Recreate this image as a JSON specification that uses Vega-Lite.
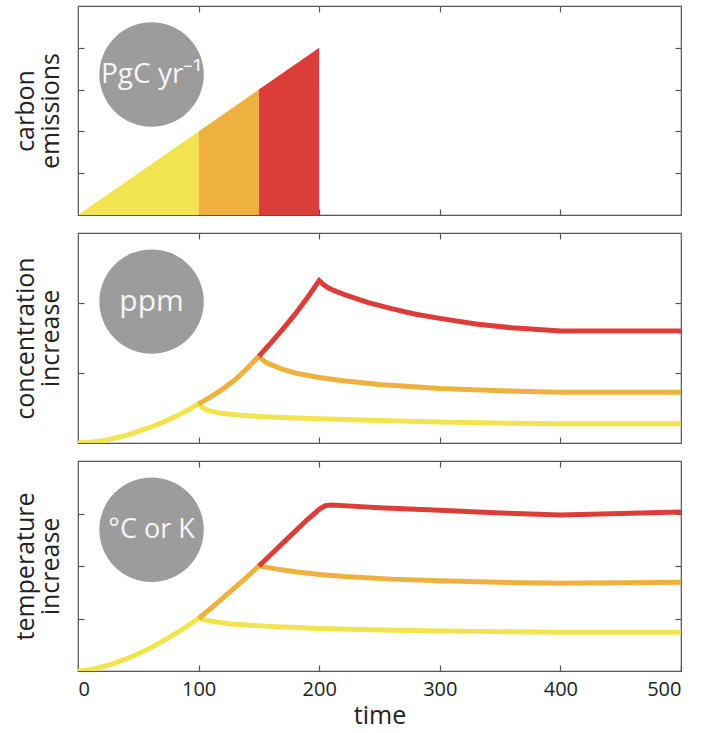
{
  "$schema": "https://vega.github.io/schema/vega-lite/v6.json",
  "padding": {"left": 12, "top": 4, "right": 0, "bottom": 0},
  "background": "white",
  "spacing": 14,
  "config": {
    "font": "Open Sans",
    "view": {"stroke": "#555555", "strokeWidth": 1.2},
    "axis": {
      "domain": false, "grid": false, "labels": false,
      "tickColor": "#555555", "tickSize": -6, "tickWidth": 1.2,
      "titleFont": "Open Sans", "titleFontWeight": "normal", "titleFontSize": 25,
      "titleColor": "#222222", "titleLineHeight": 25,
      "labelFont": "Open Sans", "labelFontSize": 20, "labelColor": "#222222"
    }
  },
  "datasets": {
    "emissions": [
      {"scenario": "low", "time": 0, "value": 0},
      {"scenario": "low", "time": 100, "value": 2},
      {"scenario": "medium", "time": 100, "value": 2},
      {"scenario": "medium", "time": 150, "value": 3},
      {"scenario": "high", "time": 150, "value": 3},
      {"scenario": "high", "time": 200, "value": 4}
    ],
    "concentration": [
      {"scenario": "low", "time": 0, "value": 0},
      {"scenario": "low", "time": 10, "value": 0.01},
      {"scenario": "low", "time": 20, "value": 0.03},
      {"scenario": "low", "time": 30, "value": 0.065},
      {"scenario": "low", "time": 40, "value": 0.11},
      {"scenario": "low", "time": 50, "value": 0.165},
      {"scenario": "low", "time": 60, "value": 0.225},
      {"scenario": "low", "time": 70, "value": 0.295},
      {"scenario": "low", "time": 80, "value": 0.37},
      {"scenario": "low", "time": 90, "value": 0.46},
      {"scenario": "low", "time": 100, "value": 0.56},
      {"scenario": "low", "time": 103, "value": 0.51},
      {"scenario": "low", "time": 106, "value": 0.48},
      {"scenario": "low", "time": 110, "value": 0.455},
      {"scenario": "low", "time": 120, "value": 0.42},
      {"scenario": "low", "time": 135, "value": 0.395},
      {"scenario": "low", "time": 150, "value": 0.38},
      {"scenario": "low", "time": 175, "value": 0.36},
      {"scenario": "low", "time": 200, "value": 0.345},
      {"scenario": "low", "time": 250, "value": 0.32},
      {"scenario": "low", "time": 300, "value": 0.3},
      {"scenario": "low", "time": 350, "value": 0.285},
      {"scenario": "low", "time": 400, "value": 0.275},
      {"scenario": "low", "time": 500, "value": 0.275},
      {"scenario": "medium", "time": 100, "value": 0.56},
      {"scenario": "medium", "time": 110, "value": 0.66},
      {"scenario": "medium", "time": 120, "value": 0.77},
      {"scenario": "medium", "time": 130, "value": 0.9},
      {"scenario": "medium", "time": 140, "value": 1.06},
      {"scenario": "medium", "time": 150, "value": 1.24},
      {"scenario": "medium", "time": 153, "value": 1.19},
      {"scenario": "medium", "time": 156, "value": 1.15},
      {"scenario": "medium", "time": 160, "value": 1.12},
      {"scenario": "medium", "time": 170, "value": 1.05},
      {"scenario": "medium", "time": 180, "value": 1.0},
      {"scenario": "medium", "time": 200, "value": 0.935},
      {"scenario": "medium", "time": 220, "value": 0.89},
      {"scenario": "medium", "time": 250, "value": 0.835},
      {"scenario": "medium", "time": 300, "value": 0.78},
      {"scenario": "medium", "time": 350, "value": 0.745},
      {"scenario": "medium", "time": 400, "value": 0.725},
      {"scenario": "medium", "time": 500, "value": 0.725},
      {"scenario": "high", "time": 150, "value": 1.24},
      {"scenario": "high", "time": 160, "value": 1.43},
      {"scenario": "high", "time": 170, "value": 1.63},
      {"scenario": "high", "time": 180, "value": 1.84},
      {"scenario": "high", "time": 190, "value": 2.07},
      {"scenario": "high", "time": 200, "value": 2.32},
      {"scenario": "high", "time": 203, "value": 2.27},
      {"scenario": "high", "time": 207, "value": 2.22},
      {"scenario": "high", "time": 212, "value": 2.18},
      {"scenario": "high", "time": 221, "value": 2.12},
      {"scenario": "high", "time": 240, "value": 2.01},
      {"scenario": "high", "time": 260, "value": 1.92},
      {"scenario": "high", "time": 280, "value": 1.84},
      {"scenario": "high", "time": 300, "value": 1.78},
      {"scenario": "high", "time": 330, "value": 1.7},
      {"scenario": "high", "time": 360, "value": 1.645},
      {"scenario": "high", "time": 400, "value": 1.6},
      {"scenario": "high", "time": 500, "value": 1.6}
    ],
    "temperature": [
      {"scenario": "low", "time": 0, "value": 0},
      {"scenario": "low", "time": 10, "value": 0.025},
      {"scenario": "low", "time": 20, "value": 0.076},
      {"scenario": "low", "time": 30, "value": 0.146},
      {"scenario": "low", "time": 40, "value": 0.23},
      {"scenario": "low", "time": 50, "value": 0.33},
      {"scenario": "low", "time": 60, "value": 0.44},
      {"scenario": "low", "time": 70, "value": 0.565},
      {"scenario": "low", "time": 80, "value": 0.7},
      {"scenario": "low", "time": 90, "value": 0.845},
      {"scenario": "low", "time": 100, "value": 1.0},
      {"scenario": "low", "time": 110, "value": 0.95},
      {"scenario": "low", "time": 125, "value": 0.9},
      {"scenario": "low", "time": 140, "value": 0.875},
      {"scenario": "low", "time": 160, "value": 0.85},
      {"scenario": "low", "time": 180, "value": 0.83},
      {"scenario": "low", "time": 200, "value": 0.81},
      {"scenario": "low", "time": 250, "value": 0.78},
      {"scenario": "low", "time": 300, "value": 0.76},
      {"scenario": "low", "time": 350, "value": 0.75},
      {"scenario": "low", "time": 400, "value": 0.74},
      {"scenario": "low", "time": 500, "value": 0.74},
      {"scenario": "medium", "time": 100, "value": 1.0},
      {"scenario": "medium", "time": 110, "value": 1.19},
      {"scenario": "medium", "time": 120, "value": 1.39},
      {"scenario": "medium", "time": 130, "value": 1.59},
      {"scenario": "medium", "time": 140, "value": 1.79},
      {"scenario": "medium", "time": 150, "value": 2.0},
      {"scenario": "medium", "time": 160, "value": 1.96},
      {"scenario": "medium", "time": 180, "value": 1.89},
      {"scenario": "medium", "time": 200, "value": 1.84},
      {"scenario": "medium", "time": 221, "value": 1.8},
      {"scenario": "medium", "time": 260, "value": 1.75},
      {"scenario": "medium", "time": 300, "value": 1.72},
      {"scenario": "medium", "time": 350, "value": 1.69},
      {"scenario": "medium", "time": 400, "value": 1.67},
      {"scenario": "medium", "time": 450, "value": 1.68},
      {"scenario": "medium", "time": 500, "value": 1.69},
      {"scenario": "high", "time": 150, "value": 2.0},
      {"scenario": "high", "time": 160, "value": 2.22},
      {"scenario": "high", "time": 170, "value": 2.44},
      {"scenario": "high", "time": 180, "value": 2.66},
      {"scenario": "high", "time": 190, "value": 2.88},
      {"scenario": "high", "time": 200, "value": 3.08},
      {"scenario": "high", "time": 205, "value": 3.15},
      {"scenario": "high", "time": 210, "value": 3.16},
      {"scenario": "high", "time": 220, "value": 3.15},
      {"scenario": "high", "time": 250, "value": 3.11},
      {"scenario": "high", "time": 300, "value": 3.06},
      {"scenario": "high", "time": 350, "value": 3.01},
      {"scenario": "high", "time": 400, "value": 2.97},
      {"scenario": "high", "time": 450, "value": 3.0},
      {"scenario": "high", "time": 500, "value": 3.03}
    ],
    "badges": [
      {"panel": "emissions", "label": "PgC yr⁻¹", "time": 61, "value": 3.36},
      {"panel": "concentration", "label": "ppm", "time": 61, "value": 2.02},
      {"panel": "temperature", "label": "°C or K", "time": 61, "value": 2.69}
    ]
  },
  "vconcat": [
    {
      "width": 603, "height": 209,
      "resolve": {"axis": {"x": "independent", "y": "independent"}},
      "layer": [
        {
          "data": {"name": "emissions"},
          "mark": {"type": "area", "clip": true},
          "encoding": {
            "x": {"field": "time", "type": "quantitative", "scale": {"domain": [0, 500], "nice": false}, "axis": {"values": [100, 200, 300, 400], "title": null}},
            "y": {"field": "value", "type": "quantitative", "stack": null, "scale": {"domain": [0, 5], "nice": false}, "axis": {"values": [1, 2, 3, 4], "title": ["carbon", "emissions"], "titlePadding": 14}},
            "color": {"field": "scenario", "type": "nominal", "scale": {"domain": ["low", "medium", "high"], "range": ["#f2e44e", "#eeb03f", "#dd3d39"]}, "legend": null}
          }
        },
        {
          "data": {"name": "badges"},
          "transform": [{"filter": "datum.panel === 'emissions'"}],
          "mark": {"type": "point", "filled": true, "size": 10900, "color": "#9c9c9c", "opacity": 1},
          "encoding": {
            "x": {"field": "time", "type": "quantitative", "axis": {"orient": "top", "values": [100, 200, 300, 400], "title": null}},
            "y": {"field": "value", "type": "quantitative", "axis": {"orient": "right", "values": [1, 2, 3, 4], "title": null}}
          }
        },
        {
          "data": {"name": "badges"},
          "transform": [{"filter": "datum.panel === 'emissions'"}],
          "mark": {"type": "text", "fontSize": 28, "color": "#f5f5f5", "align": "center", "baseline": "middle", "font": "Open Sans"},
          "encoding": {
            "x": {"field": "time", "type": "quantitative", "axis": null},
            "y": {"field": "value", "type": "quantitative", "axis": null},
            "text": {"field": "label"}
          }
        }
      ]
    },
    {
      "width": 603, "height": 210,
      "resolve": {"axis": {"x": "independent", "y": "independent"}},
      "layer": [
        {
          "data": {"name": "concentration"},
          "mark": {"type": "line", "strokeWidth": 5, "clip": true},
          "encoding": {
            "x": {"field": "time", "type": "quantitative", "scale": {"domain": [0, 500], "nice": false}, "axis": {"values": [100, 200, 300, 400], "title": null}},
            "y": {"field": "value", "type": "quantitative", "scale": {"domain": [0, 3], "nice": false}, "axis": {"values": [1, 2], "title": ["concentration", "increase"], "titlePadding": 14}},
            "color": {"field": "scenario", "type": "nominal", "scale": {"domain": ["low", "medium", "high"], "range": ["#f2e44e", "#eeb03f", "#dd3d39"]}, "legend": null}
          }
        },
        {
          "data": {"name": "badges"},
          "transform": [{"filter": "datum.panel === 'concentration'"}],
          "mark": {"type": "point", "filled": true, "size": 10900, "color": "#9c9c9c", "opacity": 1},
          "encoding": {
            "x": {"field": "time", "type": "quantitative", "axis": {"orient": "top", "values": [100, 200, 300, 400], "title": null}},
            "y": {"field": "value", "type": "quantitative", "axis": {"orient": "right", "values": [1, 2], "title": null}}
          }
        },
        {
          "data": {"name": "badges"},
          "transform": [{"filter": "datum.panel === 'concentration'"}],
          "mark": {"type": "text", "fontSize": 30, "color": "#f5f5f5", "align": "center", "baseline": "middle", "font": "Open Sans"},
          "encoding": {
            "x": {"field": "time", "type": "quantitative", "axis": null},
            "y": {"field": "value", "type": "quantitative", "axis": null},
            "text": {"field": "label"}
          }
        }
      ]
    },
    {
      "width": 603, "height": 210,
      "resolve": {"axis": {"x": "independent", "y": "independent"}},
      "layer": [
        {
          "data": {"name": "temperature"},
          "mark": {"type": "line", "strokeWidth": 5, "clip": true},
          "encoding": {
            "x": {"field": "time", "type": "quantitative", "scale": {"domain": [0, 500], "nice": false}, "axis": {"values": [0, 100, 200, 300, 400, 500], "labels": true, "labelPadding": 14, "title": "time", "titleFontSize": 25, "titlePadding": 4}},
            "y": {"field": "value", "type": "quantitative", "scale": {"domain": [0, 4], "nice": false}, "axis": {"values": [1, 2, 3], "title": ["temperature", "increase"], "titlePadding": 14}},
            "color": {"field": "scenario", "type": "nominal", "scale": {"domain": ["low", "medium", "high"], "range": ["#f2e44e", "#eeb03f", "#dd3d39"]}, "legend": null}
          }
        },
        {
          "data": {"name": "badges"},
          "transform": [{"filter": "datum.panel === 'temperature'"}],
          "mark": {"type": "point", "filled": true, "size": 10900, "color": "#9c9c9c", "opacity": 1},
          "encoding": {
            "x": {"field": "time", "type": "quantitative", "axis": {"orient": "top", "values": [100, 200, 300, 400], "title": null}},
            "y": {"field": "value", "type": "quantitative", "axis": {"orient": "right", "values": [1, 2, 3], "title": null}}
          }
        },
        {
          "data": {"name": "badges"},
          "transform": [{"filter": "datum.panel === 'temperature'"}],
          "mark": {"type": "text", "fontSize": 27, "color": "#f5f5f5", "align": "center", "baseline": "middle", "font": "Open Sans"},
          "encoding": {
            "x": {"field": "time", "type": "quantitative", "axis": null},
            "y": {"field": "value", "type": "quantitative", "axis": null},
            "text": {"field": "label"}
          }
        }
      ]
    }
  ]
}
